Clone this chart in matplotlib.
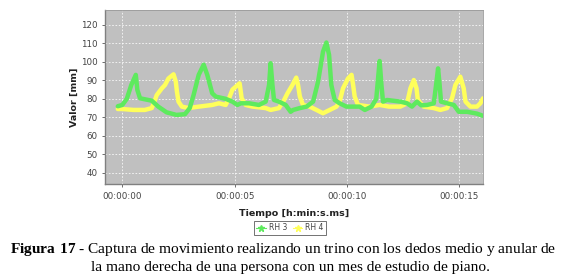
import matplotlib.pyplot as plt
from matplotlib.lines import Line2D

plt.rcParams['mathtext.fontset'] = 'custom'
plt.rcParams['mathtext.rm'] = 'Liberation Serif'
plt.rcParams['mathtext.bf'] = 'Liberation Serif:bold'

# RH 3 (green) - time in seconds, value in mm
t_rh3 = [-0.2, 0.0, 0.2, 0.4, 0.6, 0.67, 0.79, 1.31, 1.6, 1.97, 2.41, 2.79, 3.0, 3.17, 3.4, 3.62,
         3.78, 4.0, 4.16, 4.6, 4.9, 5.12, 5.27, 5.64, 6.08, 6.38, 6.53, 6.6, 6.68, 6.75, 6.97,
         7.27, 7.49, 7.6, 7.9, 8.2, 8.49, 8.71, 8.93, 9.08, 9.2, 9.3, 9.45, 9.67, 9.97, 10.27,
         10.56, 10.79, 11.09, 11.3, 11.38, 11.45, 11.53, 11.6, 11.78, 12.37, 12.67, 12.89,
         13.11, 13.3, 13.56, 13.86, 13.98, 14.05, 14.12, 14.18, 14.45, 14.75, 14.97, 15.34,
         15.78, 16.05]
v_rh3 = [76, 76.7, 80, 87.5, 93, 84.8, 80.3, 79, 75.8, 72.7, 71.3, 71.7, 75, 82, 93, 98.5,
         93, 83, 81.2, 80, 78.5, 76.7, 77.6, 77.6, 76.7, 78.5, 87.5, 99.3, 87.5, 79.4, 78.5,
         76.7, 73, 74, 75, 75.8, 78.5, 89.3, 105.5, 110.5, 103.8, 87.5, 79.4, 77.6, 75.8, 75.8,
         75.8, 74, 75.8, 80, 91, 100.5, 87.5, 78.5, 79.4, 78.5, 77.6, 75.8,
         78.5, 76.5, 76.7, 77.6, 89.3, 96.5, 87.5, 78.5, 77.6, 76.7, 73, 73,
         72, 70.8]

# RH 4 (yellow)
t_rh4 = [-0.2, 0.0, 0.5, 1.0, 1.31, 1.43, 1.53, 1.76, 1.9, 2.05, 2.28, 2.38, 2.43, 2.5, 2.65,
         2.95, 3.41, 4.0, 4.3, 4.6, 4.75, 4.9, 5.22, 5.27, 5.31, 5.49, 5.79, 6.38, 6.6, 6.97,
         7.2, 7.35, 7.57, 7.74, 7.82, 7.9, 8.04, 8.34, 8.64, 8.93, 9.23, 9.53, 9.67, 9.82,
         10.04, 10.2, 10.27, 10.34, 10.49, 11.0, 11.45, 11.87, 12.37, 12.67, 12.82, 12.97,
         13.09, 13.15, 13.41, 13.86, 14.15, 14.45, 14.67, 14.82, 15.04, 15.19, 15.27, 15.49,
         15.78, 15.93, 16.05]
v_rh4 = [74.5, 74.5, 74, 74, 75, 78.5, 82, 85.7, 87.5, 91, 93.3, 89.3, 84, 78.5, 75.8,
         75, 75.8, 76.7, 77.6, 76.7, 80.3, 85, 88.4, 84, 80.3, 76.7, 75.8, 75, 74, 75,
         79.4, 83, 87.5, 91.5, 87.5, 81.2, 76.7, 75.8, 74, 72.2, 74, 75.8, 78.5, 85.7,
         91, 93, 87.5, 81.2, 76.7, 75.8, 76.7, 75.8, 75.8, 77.6, 85.7, 90.2,
         85.7, 79.4, 75.8, 75, 74, 75, 80.3, 87.5, 92, 85.7, 78.5, 75.8,
         75.8, 77.6, 80.3]

tick_secs = [0, 5, 10, 15]
tick_labels = ['00:00:00', '00:00:05', '00:00:10', '00:00:15']
y_ticks = [40, 50, 60, 70, 80, 90, 100, 110, 120]

green = '#5eea5e'
yellow = '#ffff5a'

fig = plt.figure(figsize=(5.66, 2.77), dpi=100)
ax = fig.add_axes([0.1855, 0.3357, 0.6679, 0.6282])
ax.set_facecolor('#c0c0c0')

ax.plot(t_rh4, v_rh4, color=yellow, linewidth=3.2, solid_joinstyle='round', solid_capstyle='round', zorder=3)
ax.plot(t_rh3, v_rh3, color=green, linewidth=3.2, solid_joinstyle='round', solid_capstyle='round', zorder=4)

ax.set_xlim(-0.77, 16.05)
ax.set_ylim(33.9, 128.1)
ax.set_xticks(tick_secs)
ax.set_xticklabels(tick_labels)
ax.set_yticks(y_ticks)
ax.grid(True, color='white', linestyle=(0, (2, 2)), linewidth=0.6, alpha=0.9)
ax.set_axisbelow(True)

for s in ['top', 'right']:
    ax.spines[s].set_color('#999999')
    ax.spines[s].set_linewidth(0.6)
for s in ['left', 'bottom']:
    ax.spines[s].set_color('#808080')
    ax.spines[s].set_linewidth(1.0)

ax.tick_params(axis='both', labelsize=6.3, colors='#555555', labelcolor='#444444', length=2, width=0.6)
ax.set_ylabel('Valor [mm]', fontsize=6.8, fontweight='bold', color='#222222', labelpad=1)
ax.set_xlabel('Tiempo [h:min:s.ms]', fontsize=6.8, fontweight='bold', color='#222222', labelpad=6)

handles = [Line2D([], [], color=green, marker='*', markersize=5, linestyle='-', linewidth=0.8),
           Line2D([], [], color=yellow, marker='*', markersize=5, linestyle='-', linewidth=0.8)]
leg = fig.legend(handles, ['RH 3', 'RH 4'], loc='center', bbox_to_anchor=(290 / 566, 1 - 228 / 277),
                 ncol=2, fontsize=5.5, frameon=True, fancybox=False, handlelength=1.2,
                 handletextpad=0.4, columnspacing=0.8, borderpad=0.3, edgecolor='#333333')
leg.get_frame().set_linewidth(0.6)
for txt in leg.get_texts():
    txt.set_color('#444444')

fig.text(0.5, 1 - 249 / 277,
         r'$\mathbf{Figura\ 17}$' + ' - Captura de movimiento realizando un trino con los dedos medio y anular de',
         ha='center', va='center', fontsize=11.1, family='Liberation Serif')
fig.text(0.514, 1 - 267 / 277, 'la mano derecha de una persona con un mes de estudio de piano.',
         ha='center', va='center', fontsize=11.1, family='Liberation Serif')

fig.savefig('out.png', dpi=100)
